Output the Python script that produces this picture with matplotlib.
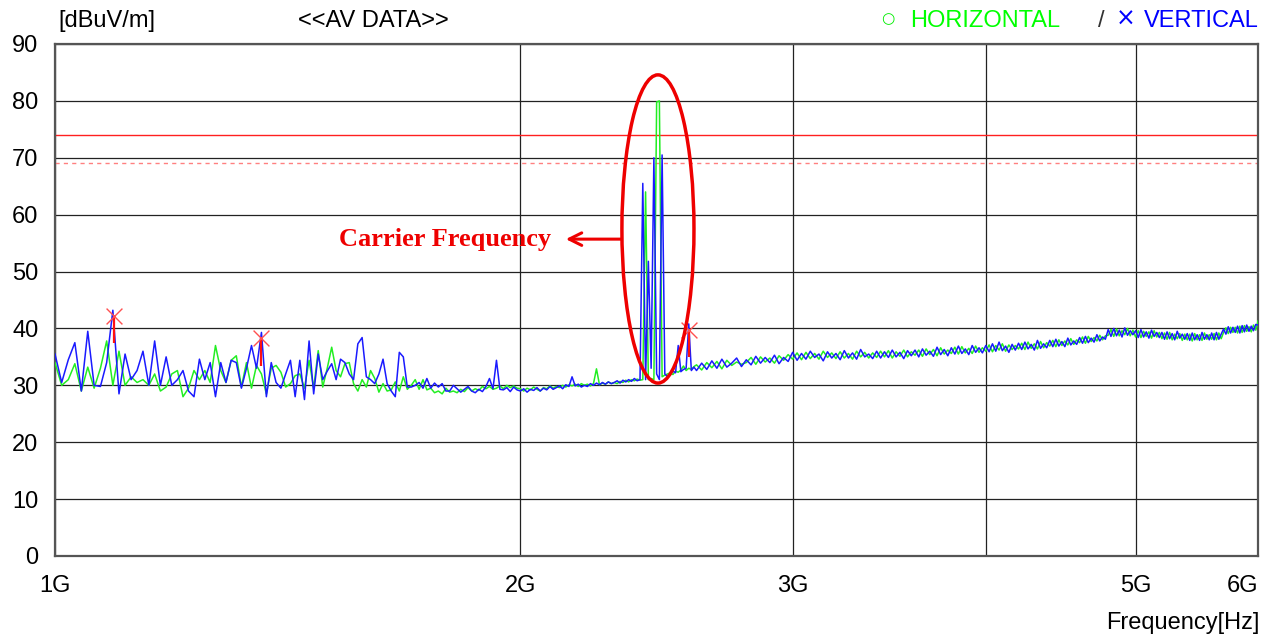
import numpy as np
import matplotlib
matplotlib.use("Agg")
import matplotlib.pyplot as plt
from matplotlib.patches import Ellipse

plt.rcParams["font.family"] = ["Liberation Sans", "DejaVu Sans"]

# sweep: 1000-2590 MHz step 10, then 2600-6000 MHz step 20
freq_lo_mhz = np.arange(1000, 2600, 10)
freq_hi_mhz = np.arange(2600, 6001, 20)

vert_lo = [
    35.5, 30.5, 34.5, 37.5, 29.0, 39.5, 30.0, 29.8, 34.0, 43.2,
    28.5, 35.5, 31.0, 32.6, 36.0, 30.0, 37.8, 30.0, 35.0, 30.0,
    31.0, 32.6, 29.0, 28.0, 34.6, 31.0, 34.0, 28.0, 34.0, 30.5,
    34.4, 34.0, 29.5, 33.0, 37.0, 33.0, 39.3, 28.0, 34.0, 30.5,
    29.5, 32.0, 34.4, 28.0, 34.4, 27.5, 37.8, 28.5, 35.5, 31.0,
    32.5, 33.8, 31.0, 34.6, 34.0, 32.0, 31.0, 37.3, 38.4, 31.5,
    31.0, 30.3, 32.0, 34.6, 30.3, 29.0, 28.0, 35.8, 35.0, 29.7,
    29.7, 30.0, 30.5, 29.5, 31.2, 29.5, 30.4, 29.7, 30.3, 29.0,
    29.0, 30.0, 29.4, 28.8, 29.3, 29.8, 29.0, 28.7, 29.3, 28.9,
    29.8, 31.2, 29.4, 34.4, 29.3, 29.2, 29.6, 28.9, 29.7, 29.2,
    29.0, 29.4, 28.8, 29.3, 29.1, 29.6, 29.0, 29.5, 29.2, 29.8,
    29.3, 29.6, 29.9, 29.4, 30.1, 29.8, 31.5, 29.9, 30.2, 29.7,
    30.0, 29.8, 30.3, 30.0, 30.4, 30.1, 30.5, 30.2, 30.6, 30.3,
    30.5, 30.8, 30.4, 30.9, 30.6, 31.0, 30.7, 31.2, 30.8, 31.0,
    65.5, 31.0, 51.8, 33.0, 70.0, 32.0, 31.0, 70.5, 32.0, 31.5,
    32.0, 32.5, 32.2, 37.0, 32.4, 32.8, 33.0, 40.8, 32.6, 33.2,
]
horiz_lo = [
    34.0, 30.0, 31.0, 33.8, 29.0, 33.2, 29.5, 33.0, 37.8, 30.0,
    36.0, 30.0, 31.5, 30.5, 31.0, 30.0, 32.0, 29.0, 29.7, 32.0,
    32.6, 28.0, 29.5, 32.6, 31.0, 32.6, 30.5, 37.0, 32.6, 30.5,
    34.4, 35.2, 29.7, 34.0, 29.5, 33.5, 32.0, 28.5, 33.0, 33.5,
    32.3, 29.7, 30.3, 31.7, 32.0, 29.5, 34.4, 29.5, 36.1, 29.7,
    33.0, 36.7, 32.6, 31.5, 33.8, 34.0, 30.3, 29.0, 31.0, 29.7,
    32.6, 31.2, 28.8, 30.3, 29.0, 29.2, 30.6, 29.0, 31.5, 29.3,
    30.0, 31.0, 29.3, 31.0, 29.2, 29.5, 28.7, 29.0, 28.5, 29.5,
    28.8, 29.0, 28.7, 29.3, 28.9, 29.6, 29.0, 29.4, 29.1, 29.8,
    29.4, 29.8, 29.3, 29.5, 29.9, 29.4, 30.0, 29.6, 29.9, 29.5,
    29.4, 29.0, 29.5, 29.2, 29.7, 29.3, 29.0, 29.6, 29.4, 29.9,
    29.5, 29.8, 29.6, 30.0, 29.7, 30.1, 29.9, 30.2, 29.8, 30.3,
    30.0, 30.2, 29.9, 30.3, 32.9, 30.1, 30.4, 30.2, 30.6, 30.3,
    30.5, 30.3, 30.7, 30.5, 30.9, 30.6, 31.0, 30.8, 31.1, 30.9,
    31.0, 64.0, 31.0, 31.2, 31.0, 79.8, 80.0, 31.5, 31.8, 32.0,
    32.2, 31.9, 32.5, 32.3, 32.7, 33.4, 32.6, 33.0, 32.8, 33.3,
]
vert_hi = [
    32.6, 33.9, 32.8, 34.3, 33.0, 34.6, 33.2, 33.9, 34.8, 33.3,
    34.5, 33.6, 35.1, 33.9, 34.9, 34.0, 35.3, 33.8, 34.9, 34.2,
    35.8, 34.4, 35.6, 34.6, 36.0, 34.9, 35.5, 34.3, 35.9, 34.8,
    35.6, 34.5, 36.1, 34.8, 35.7, 34.6, 36.3, 35.0, 35.5, 34.7,
    36.0, 34.8, 35.9, 34.9, 36.2, 35.0, 35.8, 34.7, 36.1, 35.2,
    36.2, 35.0, 36.4, 35.3, 36.0, 35.1, 36.7, 35.4, 36.3, 35.2,
    36.6, 35.5, 36.9, 35.6, 36.4, 35.4, 37.0, 35.8, 36.6, 35.7,
    37.0, 35.9, 37.3, 36.0, 37.6, 36.1, 36.9, 35.8, 37.2, 36.2,
    37.4, 36.3, 37.6, 36.4, 37.2, 36.2, 37.9, 36.5, 37.3, 36.6,
    37.9, 36.8, 38.1, 36.9, 37.7, 36.8, 38.3, 37.1, 37.8, 37.2,
    38.4, 37.4, 38.6, 37.5, 38.3, 37.6, 38.9, 37.8, 38.5, 38.1,
    39.8, 38.6, 40.0, 38.7, 39.7, 38.5, 40.1, 38.8, 39.6, 38.9,
    39.6, 38.4, 39.8, 38.5, 39.4, 38.3, 39.7, 38.6, 39.3, 38.4,
    39.3, 38.1, 39.4, 38.2, 39.1, 38.0, 39.5, 38.3, 39.0, 38.1,
    39.1, 37.9, 39.2, 38.0, 38.9, 37.9, 39.3, 38.1, 38.9, 38.0,
    39.2, 38.0, 39.3, 38.1, 39.0, 39.9, 39.0, 40.3, 39.2, 40.2,
    39.3, 40.4, 39.2, 40.5, 39.4, 40.6, 39.5, 40.4, 39.6, 40.7, 40.6,
]
horiz_hi = [
    33.6, 32.7, 34.0, 33.1, 34.2, 32.9, 34.4, 33.5, 34.1, 33.7,
    34.0, 34.9, 33.7, 35.0, 34.1, 34.8, 33.9, 35.2, 34.4, 35.4,
    34.6, 35.7, 34.5, 35.8, 34.7, 35.6, 34.6, 36.0, 34.9, 35.7,
    34.7, 35.9, 34.8, 35.6, 34.6, 36.0, 35.0, 35.8, 34.8, 35.7,
    34.9, 36.0, 35.0, 36.1, 34.8, 35.9, 35.1, 36.2, 35.0, 35.9,
    35.3, 36.2, 35.1, 36.4, 35.4, 36.3, 35.2, 36.6, 35.5, 36.2,
    35.6, 36.7, 35.5, 36.8, 35.7, 36.5, 35.6, 36.9, 35.8, 36.6,
    36.0, 37.1, 35.9, 37.0, 36.2, 37.3, 36.0, 37.1, 36.3, 37.0,
    36.4, 37.4, 36.3, 37.6, 36.5, 37.3, 36.4, 37.7, 36.6, 37.5,
    36.9, 37.9, 36.8, 38.0, 37.0, 37.8, 37.1, 38.2, 37.2, 38.0,
    37.5, 38.5, 37.4, 38.6, 37.7, 38.4, 37.8, 38.8, 38.0, 38.7,
    38.8, 39.8, 38.6, 39.9, 38.7, 39.6, 38.9, 40.0, 38.7, 39.7,
    38.5, 39.6, 38.4, 39.5, 38.6, 39.4, 38.3, 39.6, 38.5, 39.3,
    38.2, 39.2, 38.1, 39.3, 38.0, 39.0, 38.2, 39.1, 37.9, 39.0,
    38.0, 39.0, 37.8, 39.1, 38.0, 38.9, 37.9, 39.2, 38.1, 38.9,
    38.1, 39.1, 38.0, 39.2, 38.2, 39.3, 40.1, 39.1, 40.2, 39.3,
    40.2, 39.2, 40.4, 39.3, 40.5, 39.5, 40.3, 39.4, 40.6, 39.7, 41.3,
]

# peak markers (freq MHz, marked level, bottom of stem)
marker_freq = [1092, 1360, 2572]
marker_level = [42.2, 38.3, 39.7]
marker_low = [37.4, 33.4, 35.0]

limit_av = 74.0
margin_av = 69.0

xticks_hz = [1e9, 2e9, 3e9, 4e9, 5e9, 6e9]
xtick_labels = ["1G", "2G", "3G", "", "5G", "6G"]


def main() -> None:
    freq = np.concatenate([freq_lo_mhz, freq_hi_mhz]) * 1e6
    vert = np.array(vert_lo + vert_hi)
    horiz = np.array(horiz_lo + horiz_hi)

    fig = plt.figure(figsize=(12.72, 6.39), dpi=100)
    ax = fig.add_axes([55 / 1272, 1 - 556 / 639, 1203 / 1272, 512 / 639])

    ax.set_xscale("log")
    ax.set_xlim(1e9, 6e9)
    ax.set_ylim(0, 90)

    ax.set_yticks(range(0, 91, 10))
    ax.set_xticks(xticks_hz)
    ax.set_xticklabels(xtick_labels)
    ax.xaxis.set_minor_locator(matplotlib.ticker.NullLocator())
    ax.tick_params(length=0, labelsize=17)
    ax.tick_params(axis="x", pad=14)
    ax.tick_params(axis="y", pad=12)
    ax.get_xticklabels()[-1].set_horizontalalignment("right")

    ax.grid(True, color="#222222", linewidth=0.9, zorder=0)
    for s in ax.spines.values():
        s.set_color("#555555")
        s.set_linewidth(1.6)

    ax.axhline(limit_av, color="#ff2020", linewidth=1.0, zorder=2)
    ax.axhline(margin_av, color="#ff8080", linewidth=1.0, linestyle=(0, (3, 3)), zorder=2)

    ax.plot(freq, horiz, color="#22ee22", linewidth=1.1, zorder=3)
    ax.plot(freq, vert, color="#1a1aff", linewidth=1.1, zorder=4)

    mf = np.array(marker_freq) * 1e6
    ax.vlines(mf, marker_low, marker_level, color="#ff1010", linewidth=1.6, zorder=5)
    ax.scatter(mf, marker_level, marker="x", s=130, color="#ff5050", linewidths=1.0, zorder=6)

    # annotation around the carrier
    ax.add_patch(Ellipse((0.5012, 0.6387), 0.0599, 0.602, transform=ax.transAxes,
                         fill=False, edgecolor="#ee0000", linewidth=2.5, zorder=7))
    ax.annotate("", xy=(2.14e9, 55.7), xytext=(2.325e9, 55.7),
                arrowprops=dict(arrowstyle="->,head_length=0.9,head_width=0.45",
                                color="#ee0000", lw=2.2, shrinkA=0, shrinkB=0),
                zorder=7)
    ax.text(2.095e9, 55.7, "Carrier Frequency", color="#ee0000", fontsize=19,
            fontweight="bold", family="Liberation Serif", ha="right", va="center", zorder=7)

    top = 1 - 21 / 639
    fig.text(58 / 1272, top, "[dBuV/m]", fontsize=17, va="center", ha="left")
    fig.text(298 / 1272, top, "<<AV DATA>>", fontsize=17, va="center", ha="left")
    fig.text(888 / 1272, top + 0.004, "○", fontsize=11, color="#00ee00", va="center", ha="center",
             family="DejaVu Sans")
    fig.text(910 / 1272, top, "HORIZONTAL", fontsize=17, color="#00ff00", va="center", ha="left")
    fig.text(1101 / 1272, top, "/", fontsize=17, color="#333333", va="center", ha="center")
    fig.text(1126 / 1272, top + 0.003, "×", fontsize=17, color="#0000ff", va="center", ha="center",
             family="DejaVu Sans")
    fig.text(1259 / 1272, top, "VERTICAL", fontsize=17, color="#0000ff", va="center", ha="right")
    fig.text(1259 / 1272, 1 - 623 / 639, "Frequency[Hz]", fontsize=17, va="center", ha="right")

    fig.savefig("out.png", dpi=100)


main()
